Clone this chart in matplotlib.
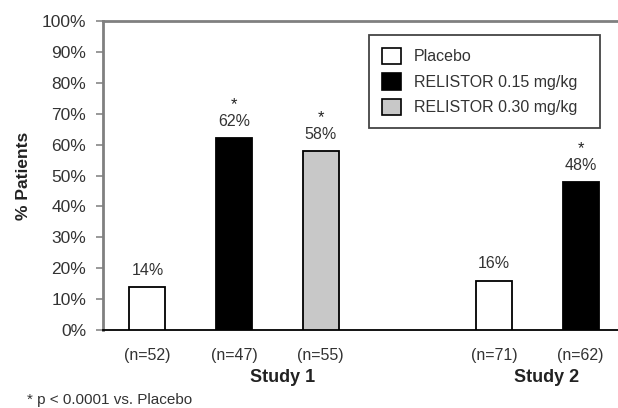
import matplotlib
matplotlib.use("Agg")
import matplotlib.pyplot as plt
from matplotlib.patches import Patch
import matplotlib.transforms as mtransforms

plt.rcParams['font.family'] = ['Liberation Sans', 'DejaVu Sans']

# Data
groups = ["Placebo", "RELISTOR 0.15 mg/kg", "RELISTOR 0.30 mg/kg"]
bar_group = ["Placebo", "RELISTOR 0.15 mg/kg", "RELISTOR 0.30 mg/kg", "Placebo", "RELISTOR 0.15 mg/kg"]
values = [14, 62, 58, 16, 48]
n_labels = ["(n=52)", "(n=47)", "(n=55)", "(n=71)", "(n=62)"]
significant = [False, True, True, False, True]
positions = [0, 1, 2, 4, 5]
study_labels = ["Study 1", "Study 2"]
study_pos = [1.56, 4.61]
yticks = list(range(0, 101, 10))
footnote = "* p < 0.0001 vs. Placebo"

colors = {"Placebo": "white", "RELISTOR 0.15 mg/kg": "black", "RELISTOR 0.30 mg/kg": "#c8c8c8"}

fig = plt.figure(figsize=(6.18, 4.08), dpi=100)
ax = fig.add_axes([103/618, 78/408, 1 - 103/618, (330-21)/408])

ax.bar(positions, values, width=0.415, color=[colors[g] for g in bar_group],
       edgecolor="black", linewidth=1.3, zorder=3)

ax.set_xlim(-0.513, 5.43)
ax.set_ylim(0, 100)
ax.set_yticks(yticks)
ax.set_yticklabels([f"{t}%" for t in yticks], fontsize=12.5, color="#333333")
ax.tick_params(axis="y", direction="out", length=5, width=1.2, color="#888888", pad=7)

ax.set_xticks(positions)
ax.set_xticklabels(n_labels, fontsize=11.5, color="#333333")
ax.tick_params(axis="x", length=0, pad=13)

for s in ["left", "top"]:
    ax.spines[s].set_color("#808080")
    ax.spines[s].set_linewidth(2)
ax.spines["right"].set_visible(False)
ax.spines["bottom"].set_color("black")
ax.spines["bottom"].set_linewidth(1.3)

for x, v, sig in zip(positions, values, significant):
    ax.annotate(f"{v}%", (x, v), xytext=(0, 12), textcoords="offset points",
                ha="center", va="center", fontsize=11.5, color="#333333")
    if sig:
        ax.annotate("*", (x, v), xytext=(0, 24), textcoords="offset points",
                    ha="center", va="center", fontsize=12, color="#222222")

trans = mtransforms.blended_transform_factory(ax.transData, fig.transFigure)
for x, lab in zip(study_pos, study_labels):
    ax.text(x, 1 - 378/408, lab, transform=trans, ha="center", va="center",
            fontsize=13, fontweight="bold", color="#222222")

ax.set_ylabel("% Patients", fontsize=12.5, fontweight="bold", color="#222222", labelpad=8)

fig.text(27/618, 1 - 400/408, footnote, ha="left", va="center", fontsize=11, color="#333333")

handles = [Patch(facecolor=colors[g], edgecolor="black", linewidth=1.2) for g in groups]
leg = ax.legend(handles, groups, loc="upper left", mode="expand",
                bbox_to_anchor=(369/618, 1 - 127/408, 231/618, 92/408),
                bbox_transform=fig.transFigure,
                borderaxespad=0, fancybox=False, edgecolor="#444444", framealpha=1,
                fontsize=11.5, handlelength=1.2, handleheight=1.2, handletextpad=0.8,
                labelspacing=0.55, borderpad=0.8)
leg.get_frame().set_linewidth(1.3)
for t in leg.get_texts():
    t.set_color("#333333")

fig.savefig("out.png", dpi=100)
